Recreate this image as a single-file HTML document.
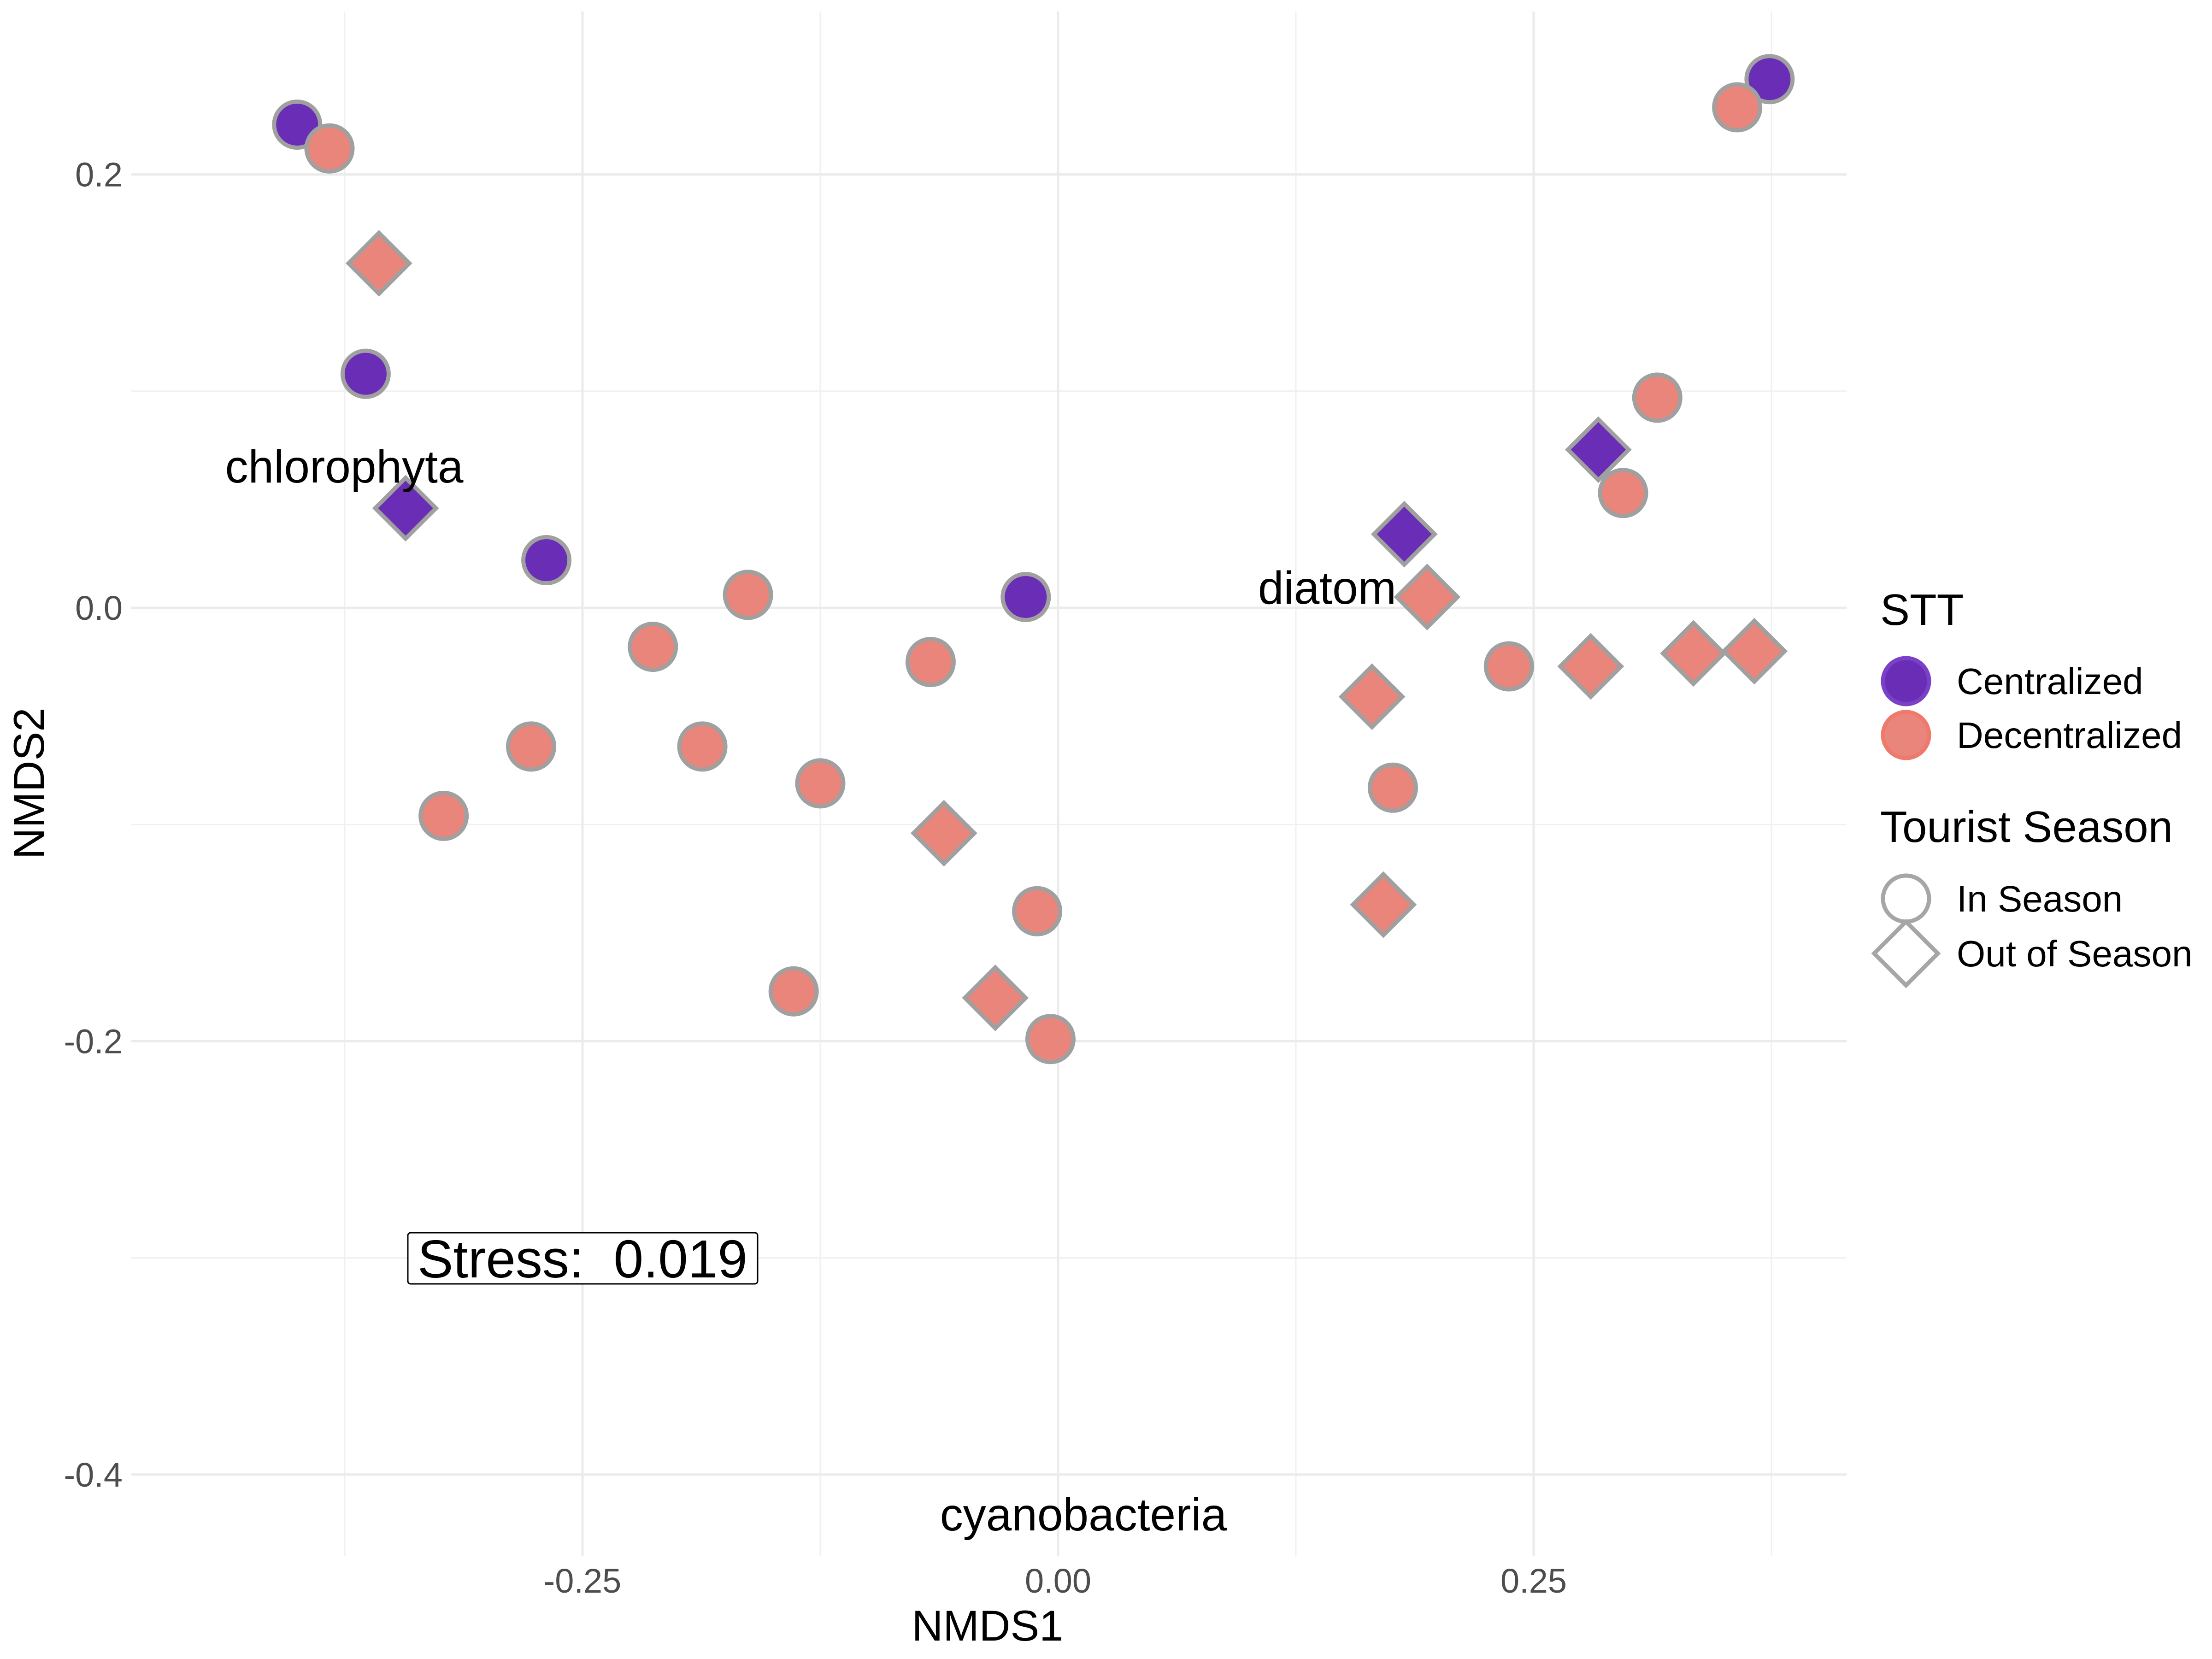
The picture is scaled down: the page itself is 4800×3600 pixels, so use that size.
<!DOCTYPE html>
<html><head><meta charset="utf-8"><style>
html,body{margin:0;padding:0;background:#fff;}
svg{display:block;font-family:"Liberation Sans",Arial,sans-serif;}
</style></head><body>
<svg id="chart" width="4800" height="3600" viewBox="0 0 4800 3600" xmlns="http://www.w3.org/2000/svg">
<g id="grid"></g>
<g id="ticks"></g>
<g id="points"></g>
<text x="747" y="1047" font-size="100" text-anchor="middle">chlorophyta</text>
<text x="2880" y="1310" font-size="100" text-anchor="middle">diatom</text>
<text x="2351" y="3321" font-size="100" text-anchor="middle">cyanobacteria</text>
<rect x="885" y="2675" width="759" height="111" fill="#fff" stroke="#000" stroke-width="3" rx="6"/>
<text x="1264" y="2772" font-size="116" text-anchor="middle" xml:space="preserve" style="white-space:pre">Stress:  0.019</text>
<text x="2143" y="3560" font-size="94" text-anchor="middle">NMDS1</text>
<text x="95" y="1700" font-size="94" text-anchor="middle" transform="rotate(-90 95 1700)">NMDS2</text>
<g>
<text x="4080" y="1356" font-size="96">STT</text>
<circle cx="4136" cy="1478" r="50" fill="#6a2db5" stroke="#7a40c8" stroke-width="9"/>
<text x="4246" y="1506" font-size="80">Centralized</text>
<circle cx="4136" cy="1595" r="50" fill="#ea857b" stroke="#ee7a6e" stroke-width="9"/>
<text x="4246" y="1623" font-size="80">Decentralized</text>
<text x="4080" y="1827" font-size="96">Tourist Season</text>
<circle cx="4136" cy="1950" r="50" fill="none" stroke="#a6a6a6" stroke-width="9"/>
<text x="4246" y="1978" font-size="80">In Season</text>
<polygon points="4136,2000 4205,2069 4136,2138 4067,2069" fill="none" stroke="#a6a6a6" stroke-width="9"/>
<text x="4246" y="2097" font-size="80">Out of Season</text>
</g>
</svg>
<script>
const xTicks = [-0.25, 0, 0.25];
const xTickLabels = ["-0.25", "0.00", "0.25"];
const xMinor = [-0.375, -0.125, 0.125, 0.375];
const yTicks = [0.2, 0, -0.2, -0.4];
const yTickLabels = ["0.2", "0.0", "-0.2", "-0.4"];
const yMinor = [0.1, -0.1, -0.3];
const ptX = [-0.400,-0.364,-0.269,-0.017,0.374,
 -0.383,-0.277,-0.323,-0.213,-0.163,-0.187,-0.125,-0.139,-0.067,-0.011,-0.004,0.176,0.237,0.297,0.315,0.357,
 -0.343,0.182,0.284,
 -0.357,-0.060,-0.033,0.165,0.171,0.194,0.280,0.334,0.366];
const ptY = [0.223,0.108,0.022,0.005,0.244,
 0.212,-0.064,-0.096,-0.018,0.006,-0.064,-0.081,-0.177,-0.025,-0.140,-0.199,-0.083,-0.027,0.053,0.097,0.231,
 0.046,0.034,0.073,
 0.159,-0.104,-0.180,-0.041,-0.137,0.005,-0.027,-0.021,-0.020];
const ptGroup = ["C","C","C","C","C",
 "D","D","D","D","D","D","D","D","D","D","D","D","D","D","D","D",
 "C","C","C",
 "D","D","D","D","D","D","D","D","D"];
const ptSeason = ["in","in","in","in","in",
 "in","in","in","in","in","in","in","in","in","in","in","in","in","in","in","in",
 "out","out","out",
 "out","out","out","out","out","out","out","out","out"];

const NS = "http://www.w3.org/2000/svg";
const X0 = 285, X1 = 4007, Y0 = 25, Y1 = 3376;
function sx(v){ return 2296 + v * 4128; }
function sy(v){ return 1319 - v * 4702; }
function mk(tag, attrs, parent){ const e = document.createElementNS(NS, tag); for (const k in attrs) e.setAttribute(k, attrs[k]); parent.appendChild(e); return e; }
const grid = document.getElementById("grid"), ticks = document.getElementById("ticks"), pts = document.getElementById("points");
xMinor.forEach(v => { const l = mk("line", {x1:sx(v), x2:sx(v), y1:Y0, y2:Y1, stroke:"#f0f0f0", "stroke-width":3}, grid);
 
  });
yMinor.forEach(v => { const l = mk("line", {x1:X0, x2:X1, y1:sy(v), y2:sy(v), stroke:"#f0f0f0", "stroke-width":3}, grid);
 
  });
xTicks.forEach((v,i) => { const l = mk("line", {x1:sx(v), x2:sx(v), y1:Y0, y2:Y1, stroke:"#ebebeb", "stroke-width":5}, grid);
 
 
 const t = mk("text", {x:sx(v), y:3456, "font-size":74, fill:"#4d4d4d", "text-anchor":"middle"}, ticks);
 t.textContent = xTickLabels[i];
 
  });
yTicks.forEach((v,i) => { const l = mk("line", {x1:X0, x2:X1, y1:sy(v), y2:sy(v), stroke:"#ebebeb", "stroke-width":5}, grid);
 
 
 const t = mk("text", {x:266, y:sy(v)+26, "font-size":74, fill:"#4d4d4d", "text-anchor":"end"}, ticks);
 t.textContent = yTickLabels[i];
 
  });
ptX.forEach((xv,i) => {
 const cx = sx(xv), cy = sy(ptY[i]);
 const fill = ptGroup[i] === "C" ? "#6a2db5" : "#ea857b";
 let e;
 if (ptSeason[i] === "in") {
  e = mk("circle", {cx:cx, cy:cy, r:50, fill:fill, stroke:"#a0a0a0", "stroke-width":9}, pts);
 } else {
  const d = 66;
  e = mk("polygon", {points:`${cx},${cy-d} ${cx+d},${cy} ${cx},${cy+d} ${cx-d},${cy}`, fill:fill, stroke:"#a0a0a0", "stroke-width":9}, pts);
 }
 
 
});
</script>
</body></html>
